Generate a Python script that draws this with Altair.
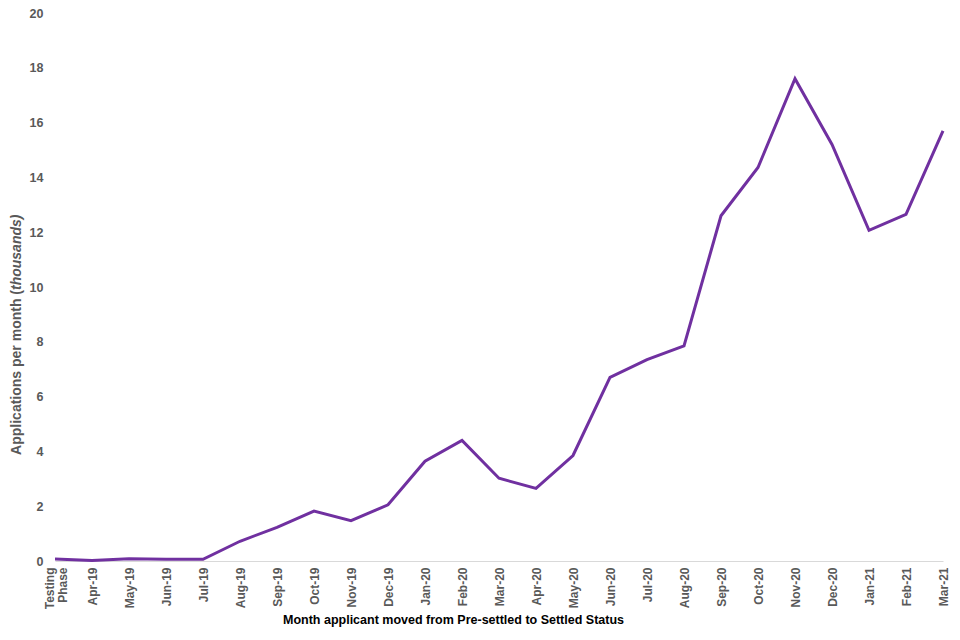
import altair as alt
import pandas as pd

months = ["Testing Phase", "Apr-19", "May-19", "Jun-19", "Jul-19", "Aug-19", "Sep-19",
          "Oct-19", "Nov-19", "Dec-19", "Jan-20", "Feb-20", "Mar-20", "Apr-20", "May-20",
          "Jun-20", "Jul-20", "Aug-20", "Sep-20", "Oct-20", "Nov-20", "Dec-20", "Jan-21",
          "Feb-21", "Mar-21"]
values = [0.07, 0.02, 0.08, 0.06, 0.06, 0.72, 1.23, 1.82, 1.47, 2.05, 3.64, 4.40, 3.02,
          2.65, 3.85, 6.70, 7.35, 7.85, 12.60, 14.36, 17.60, 15.20, 12.07, 12.65, 15.70]
y_ticks = [0, 2, 4, 6, 8, 10, 12, 14, 16, 18, 20]

FONT = "Liberation Sans"
df = pd.DataFrame({"month": months, "value": values})

line = alt.Chart(df).mark_line(color="#7030A0", strokeWidth=3).encode(
    x=alt.X("month:N", sort=months,
            scale=alt.Scale(type="point", padding=0),
            axis=alt.Axis(
                title="Month applicant moved from Pre-settled to Settled Status",
                titleFont=FONT, titleFontSize=12.5, titleFontWeight="bold", titleColor="#000000",
                titleX=398, titleY=58, titleAnchor="middle", titleBaseline="middle",
                labelFont=FONT, labelFontSize=12, labelFontWeight="bold", labelColor="#595959",
                labelAngle=270, labelAlign="right", labelBaseline="middle", labelPadding=6,
                labelLineHeight=13,
                labelOffset={"condition": {"test": "datum.value == 'Testing Phase'", "value": -6},
                             "value": 0},
                labelExpr="datum.label == 'Testing Phase' ? ['Testing', 'Phase'] : datum.label",
                ticks=False, domainColor="#d9d9d9", domainWidth=1, grid=False,
                labelOverlap=False)),
    y=alt.Y("value:Q", scale=alt.Scale(domain=[0, 20], nice=False),
            axis=alt.Axis(title=None, values=y_ticks, ticks=False, domain=False, grid=False,
                          labelFont=FONT, labelFontSize=12.5, labelFontWeight="bold",
                          labelColor="#595959", labelPadding=12))
)

t1 = alt.Chart(pd.DataFrame({"t": ["Applications per month ("]})).mark_text(
    angle=270, align="right", baseline="middle", font=FONT, fontSize=14,
    fontWeight="bold", color="#595959"
).encode(text="t:N", x=alt.value(-38), y=alt.value(277))

t2 = alt.Chart(pd.DataFrame({"t": ["thousands)"]})).mark_text(
    angle=270, align="left", baseline="middle", font=FONT, fontSize=14,
    fontWeight="bold", fontStyle="italic", color="#595959"
).encode(text="t:N", x=alt.value(-38), y=alt.value(277))

chart = alt.layer(line, t1, t2).properties(
    width=888, height=548,
    autosize=alt.AutoSizeParams(type="none"),
    padding={"left": 47, "top": 5, "right": 8, "bottom": 70},
).configure_view(stroke=None)

chart.save("out.html", embed_options={"renderer": "svg", "actions": False})
